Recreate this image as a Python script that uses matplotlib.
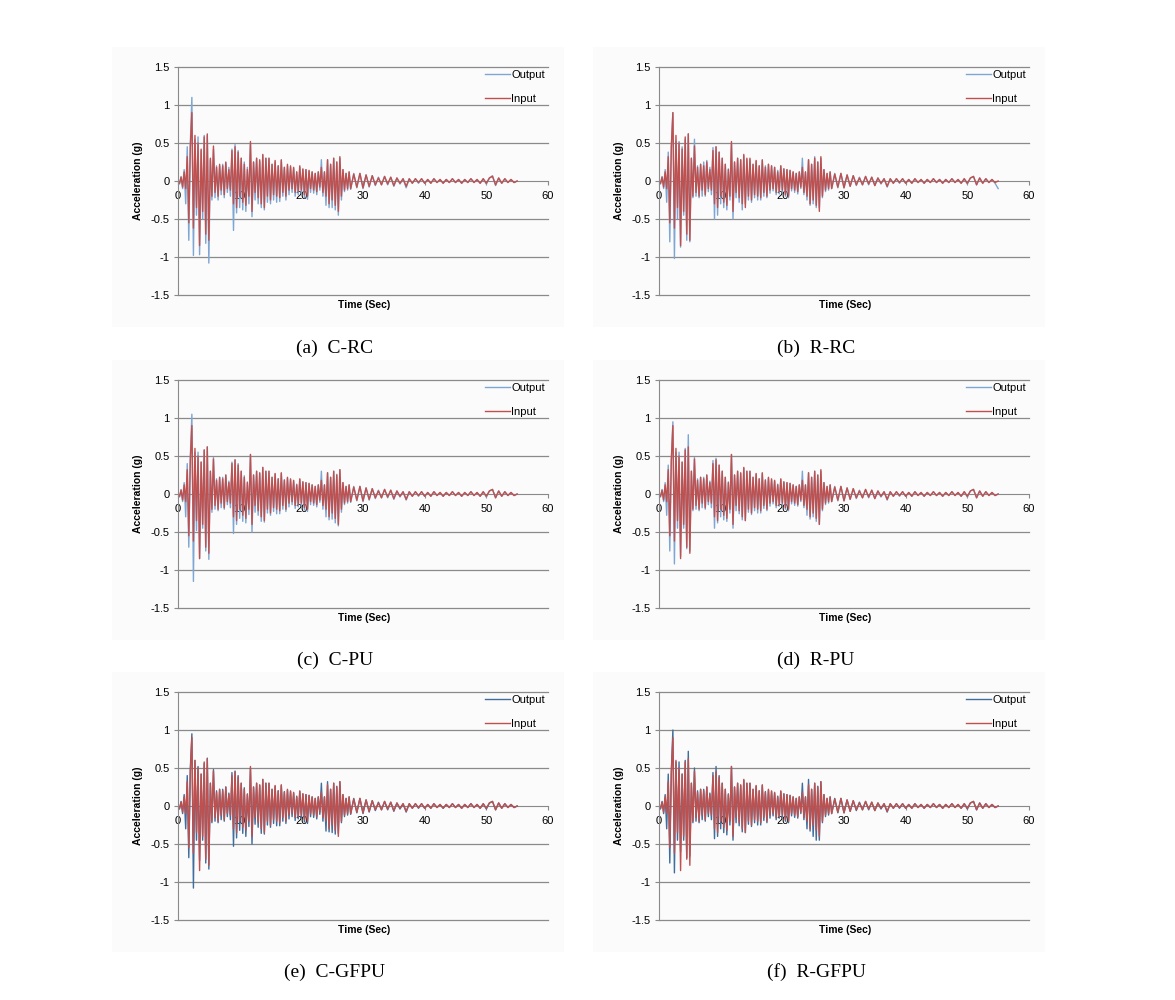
import numpy as np
import matplotlib
matplotlib.use('Agg')
import matplotlib.pyplot as plt
from matplotlib.patches import Rectangle

plt.rcParams['font.family'] = ['Liberation Sans', 'DejaVu Sans']

# time axis: 0.25 s steps during the strong shaking, 0.5 s steps in the coda
time = np.concatenate([np.arange(0, 28, 0.25), np.arange(28, 55.01, 0.5)])

# input (table) acceleration, g
acc_input = [
    0.0, -0.03, 0.05, -0.08, 0.12, -0.1, 0.32, -0.55, 0.45, 0.9, -0.62, 0.6,
    -0.35, 0.5, -0.85, 0.42, -0.4, 0.58, -0.7, 0.62, -0.78, 0.3, -0.2, 0.46,
    -0.15, 0.18, -0.2, 0.22, -0.12, 0.2, -0.18, 0.25, -0.1, 0.15, -0.12, 0.4,
    -0.3, 0.45, -0.35, 0.38, -0.2, 0.3, -0.28, 0.22, -0.32, 0.15, -0.2, 0.52,
    -0.4, 0.25, -0.15, 0.3, -0.22, 0.28, -0.3, 0.35, -0.35, 0.3, -0.2, 0.3,
    -0.25, 0.22, -0.18, 0.27, -0.2, 0.2, -0.22, 0.28, -0.15, 0.18, -0.2, 0.22,
    -0.12, 0.2, -0.1, 0.18, -0.15, 0.12, -0.14, 0.2, -0.12, 0.16, -0.18, 0.15,
    -0.2, 0.14, -0.1, 0.12, -0.12, 0.1, -0.14, 0.12, -0.08, 0.18, -0.15, 0.12,
    -0.2, 0.28, -0.3, 0.22, -0.25, 0.3, -0.32, 0.25, -0.4, 0.32, -0.2, 0.15,
    -0.12, 0.1, -0.1, 0.12,
    -0.1, 0.09, -0.08, 0.1, -0.09, 0.08, -0.07, 0.07, -0.05, 0.04, -0.05, 0.06,
    -0.04, 0.05, -0.06, 0.04, -0.03, 0.03, -0.07, 0.03, -0.03, 0.03, -0.02, 0.03,
    -0.03, 0.02, -0.03, 0.03, -0.02, 0.02, -0.03, 0.02, -0.02, 0.03, -0.02, 0.02,
    -0.03, 0.02, -0.02, 0.03, -0.02, 0.02, -0.03, 0.03, -0.03, 0.04, 0.06, -0.05,
    0.04, -0.03, 0.03, -0.02, 0.02, -0.02, 0.0,
]

# measured output acceleration for each specimen, g
out_c_rc = [
    0.0, -0.04, 0.06, -0.1, 0.15, -0.3, 0.45, -0.78, 0.5, 1.1, -0.98, 0.55,
    -0.45, 0.58, -0.97, 0.4, -0.5, 0.6, -0.82, 0.6, -1.08, 0.28, -0.25, 0.42,
    -0.22, 0.2, -0.25, 0.2, -0.18, 0.22, -0.22, 0.24, -0.15, 0.18, -0.2, 0.42,
    -0.65, 0.48, -0.42, 0.4, -0.35, 0.3, -0.38, 0.25, -0.4, 0.18, -0.3, 0.5,
    -0.47, 0.25, -0.25, 0.3, -0.3, 0.26, -0.35, 0.34, -0.38, 0.3, -0.28, 0.3,
    -0.3, 0.22, -0.25, 0.25, -0.28, 0.2, -0.27, 0.27, -0.2, 0.18, -0.25, 0.2,
    -0.18, 0.18, -0.15, 0.17, -0.2, 0.12, -0.18, 0.18, -0.16, 0.15, -0.22, 0.15,
    -0.24, 0.13, -0.15, 0.12, -0.16, 0.1, -0.18, 0.12, -0.12, 0.28, -0.2, 0.12,
    -0.32, 0.28, -0.35, 0.22, -0.35, 0.3, -0.38, 0.25, -0.45, 0.3, -0.25, 0.15,
    -0.14, 0.1, -0.12, 0.12,
    -0.11, 0.1, -0.09, 0.1, -0.1, 0.08, -0.08, 0.07, -0.06, 0.05, -0.05, 0.06,
    -0.05, 0.05, -0.07, 0.04, -0.04, 0.03, -0.09, 0.03, -0.03, 0.03, -0.03, 0.03,
    -0.03, 0.02, -0.03, 0.03, -0.02, 0.02, -0.03, 0.02, -0.02, 0.03, -0.02, 0.02,
    -0.03, 0.02, -0.02, 0.03, -0.02, 0.02, -0.03, 0.03, -0.04, 0.04, 0.07, -0.06,
    0.04, -0.03, 0.03, -0.02, 0.02, -0.02, 0.0,
]
out_r_rc = [
    0.0, -0.04, 0.06, -0.1, 0.15, -0.28, 0.38, -0.8, 0.45, 0.9, -1.02, 0.52,
    -0.5, 0.52, -0.87, 0.45, -0.45, 0.55, -0.78, 0.62, -0.8, 0.3, -0.22, 0.55,
    -0.2, 0.2, -0.22, 0.22, -0.2, 0.25, -0.2, 0.27, -0.14, 0.18, -0.18, 0.44,
    -0.5, 0.45, -0.45, 0.38, -0.3, 0.3, -0.35, 0.22, -0.38, 0.16, -0.25, 0.5,
    -0.5, 0.25, -0.22, 0.3, -0.28, 0.28, -0.38, 0.33, -0.3, 0.28, -0.25, 0.28,
    -0.28, 0.22, -0.22, 0.26, -0.25, 0.2, -0.25, 0.27, -0.2, 0.2, -0.22, 0.22,
    -0.16, 0.2, -0.13, 0.18, -0.18, 0.14, -0.17, 0.2, -0.15, 0.16, -0.2, 0.15,
    -0.22, 0.14, -0.13, 0.12, -0.15, 0.1, -0.17, 0.12, -0.1, 0.3, -0.18, 0.12,
    -0.25, 0.28, -0.32, 0.22, -0.3, 0.32, -0.35, 0.25, -0.35, 0.3, -0.22, 0.15,
    -0.14, 0.1, -0.12, 0.12,
    -0.1, 0.1, -0.09, 0.1, -0.09, 0.08, -0.07, 0.07, -0.06, 0.05, -0.05, 0.06,
    -0.05, 0.05, -0.06, 0.04, -0.04, 0.03, -0.08, 0.03, -0.03, 0.03, -0.03, 0.03,
    -0.03, 0.02, -0.03, 0.03, -0.02, 0.02, -0.03, 0.02, -0.02, 0.03, -0.02, 0.02,
    -0.03, 0.02, -0.02, 0.03, -0.02, 0.02, -0.03, 0.03, -0.04, 0.04, 0.06, -0.05,
    0.04, -0.03, 0.03, -0.02, 0.02, -0.03, -0.1,
]
out_c_pu = [
    0.0, -0.04, 0.06, -0.1, 0.15, -0.3, 0.4, -0.7, 0.5, 1.05, -1.15, 0.55,
    -0.48, 0.55, -0.85, 0.42, -0.45, 0.58, -0.75, 0.62, -0.86, 0.3, -0.24, 0.48,
    -0.2, 0.2, -0.22, 0.22, -0.18, 0.22, -0.2, 0.25, -0.14, 0.17, -0.18, 0.42,
    -0.52, 0.45, -0.4, 0.4, -0.32, 0.3, -0.36, 0.24, -0.38, 0.16, -0.27, 0.52,
    -0.5, 0.25, -0.24, 0.3, -0.28, 0.27, -0.36, 0.35, -0.37, 0.3, -0.25, 0.3,
    -0.28, 0.22, -0.23, 0.26, -0.26, 0.2, -0.26, 0.27, -0.2, 0.19, -0.23, 0.21,
    -0.17, 0.19, -0.14, 0.17, -0.19, 0.13, -0.17, 0.19, -0.15, 0.16, -0.21, 0.15,
    -0.23, 0.14, -0.14, 0.12, -0.15, 0.1, -0.17, 0.12, -0.11, 0.3, -0.2, 0.12,
    -0.3, 0.28, -0.34, 0.22, -0.33, 0.3, -0.38, 0.26, -0.42, 0.32, -0.24, 0.15,
    -0.14, 0.1, -0.12, 0.12,
    -0.11, 0.1, -0.09, 0.1, -0.1, 0.08, -0.08, 0.07, -0.06, 0.05, -0.05, 0.06,
    -0.05, 0.05, -0.07, 0.04, -0.04, 0.03, -0.08, 0.03, -0.03, 0.03, -0.03, 0.03,
    -0.03, 0.02, -0.03, 0.03, -0.02, 0.02, -0.03, 0.02, -0.02, 0.03, -0.02, 0.02,
    -0.03, 0.02, -0.02, 0.03, -0.02, 0.02, -0.03, 0.03, -0.04, 0.04, 0.06, -0.05,
    0.04, -0.03, 0.03, -0.02, 0.02, -0.02, 0.0,
]
out_r_pu = [
    0.0, -0.04, 0.06, -0.1, 0.15, -0.28, 0.38, -0.75, 0.45, 0.95, -0.92, 0.55,
    -0.45, 0.55, -0.82, 0.42, -0.45, 0.6, -0.72, 0.78, -0.75, 0.3, -0.22, 0.48,
    -0.2, 0.2, -0.22, 0.22, -0.18, 0.22, -0.2, 0.25, -0.14, 0.17, -0.18, 0.44,
    -0.45, 0.47, -0.38, 0.38, -0.3, 0.3, -0.34, 0.22, -0.36, 0.16, -0.25, 0.52,
    -0.45, 0.25, -0.22, 0.3, -0.26, 0.27, -0.34, 0.34, -0.35, 0.3, -0.24, 0.3,
    -0.27, 0.22, -0.22, 0.26, -0.25, 0.2, -0.25, 0.27, -0.19, 0.19, -0.22, 0.21,
    -0.16, 0.19, -0.13, 0.17, -0.18, 0.13, -0.16, 0.19, -0.14, 0.16, -0.2, 0.15,
    -0.22, 0.14, -0.13, 0.12, -0.15, 0.1, -0.16, 0.12, -0.1, 0.3, -0.18, 0.12,
    -0.28, 0.28, -0.33, 0.22, -0.3, 0.3, -0.36, 0.25, -0.4, 0.3, -0.22, 0.15,
    -0.14, 0.1, -0.12, 0.12,
    -0.1, 0.1, -0.09, 0.1, -0.09, 0.08, -0.07, 0.07, -0.06, 0.05, -0.05, 0.06,
    -0.05, 0.05, -0.06, 0.04, -0.04, 0.03, -0.08, 0.03, -0.03, 0.03, -0.03, 0.03,
    -0.03, 0.02, -0.03, 0.03, -0.02, 0.02, -0.03, 0.02, -0.02, 0.03, -0.02, 0.02,
    -0.03, 0.02, -0.02, 0.03, -0.02, 0.02, -0.03, 0.03, -0.04, 0.04, 0.06, -0.05,
    0.04, -0.03, 0.03, -0.02, 0.02, -0.02, 0.0,
]
out_c_gfpu = [
    0.0, -0.04, 0.06, -0.1, 0.15, -0.3, 0.4, -0.68, 0.5, 0.95, -1.08, 0.6,
    -0.45, 0.52, -0.72, 0.42, -0.45, 0.56, -0.75, 0.63, -0.83, 0.3, -0.22, 0.48,
    -0.2, 0.2, -0.22, 0.22, -0.18, 0.22, -0.2, 0.25, -0.14, 0.17, -0.18, 0.44,
    -0.53, 0.46, -0.42, 0.4, -0.32, 0.3, -0.36, 0.24, -0.4, 0.16, -0.27, 0.5,
    -0.5, 0.25, -0.24, 0.3, -0.28, 0.27, -0.36, 0.35, -0.37, 0.3, -0.25, 0.3,
    -0.28, 0.22, -0.23, 0.26, -0.26, 0.2, -0.26, 0.27, -0.2, 0.19, -0.23, 0.21,
    -0.17, 0.19, -0.14, 0.17, -0.19, 0.13, -0.17, 0.19, -0.15, 0.16, -0.21, 0.15,
    -0.23, 0.14, -0.14, 0.12, -0.15, 0.1, -0.17, 0.12, -0.11, 0.3, -0.2, 0.12,
    -0.33, 0.32, -0.34, 0.22, -0.35, 0.3, -0.37, 0.26, -0.36, 0.32, -0.22, 0.15,
    -0.14, 0.1, -0.12, 0.12,
    -0.11, 0.1, -0.09, 0.1, -0.1, 0.08, -0.08, 0.07, -0.06, 0.05, -0.05, 0.06,
    -0.05, 0.05, -0.07, 0.04, -0.04, 0.03, -0.08, 0.03, -0.03, 0.03, -0.03, 0.03,
    -0.03, 0.02, -0.03, 0.03, -0.02, 0.02, -0.03, 0.02, -0.02, 0.03, -0.02, 0.02,
    -0.03, 0.02, -0.02, 0.03, -0.02, 0.02, -0.03, 0.03, -0.04, 0.04, 0.06, -0.05,
    0.04, -0.03, 0.03, -0.02, 0.02, -0.02, 0.0,
]
out_r_gfpu = [
    0.0, -0.04, 0.06, -0.1, 0.15, -0.3, 0.42, -0.75, 0.45, 1.0, -0.88, 0.58,
    -0.45, 0.58, -0.6, 0.42, -0.45, 0.6, -0.68, 0.72, -0.66, 0.3, -0.22, 0.5,
    -0.2, 0.2, -0.22, 0.22, -0.18, 0.22, -0.2, 0.25, -0.14, 0.17, -0.18, 0.44,
    -0.43, 0.52, -0.4, 0.4, -0.3, 0.3, -0.35, 0.22, -0.38, 0.16, -0.25, 0.52,
    -0.45, 0.25, -0.22, 0.3, -0.26, 0.27, -0.34, 0.34, -0.35, 0.3, -0.24, 0.3,
    -0.27, 0.22, -0.22, 0.26, -0.25, 0.2, -0.25, 0.27, -0.19, 0.19, -0.22, 0.21,
    -0.16, 0.19, -0.13, 0.17, -0.18, 0.13, -0.16, 0.19, -0.14, 0.16, -0.2, 0.15,
    -0.22, 0.14, -0.13, 0.12, -0.15, 0.1, -0.16, 0.12, -0.1, 0.3, -0.18, 0.12,
    -0.3, 0.35, -0.33, 0.22, -0.4, 0.3, -0.45, 0.26, -0.45, 0.32, -0.22, 0.15,
    -0.14, 0.1, -0.12, 0.12,
    -0.1, 0.1, -0.09, 0.1, -0.09, 0.08, -0.07, 0.07, -0.06, 0.05, -0.05, 0.06,
    -0.05, 0.05, -0.06, 0.04, -0.04, 0.03, -0.08, 0.03, -0.03, 0.03, -0.03, 0.03,
    -0.03, 0.02, -0.03, 0.03, -0.02, 0.02, -0.03, 0.02, -0.02, 0.03, -0.02, 0.02,
    -0.03, 0.02, -0.02, 0.03, -0.02, 0.02, -0.03, 0.03, -0.04, 0.04, 0.06, -0.05,
    0.04, -0.03, 0.03, -0.02, 0.02, -0.02, 0.0,
]

captions = ['(a)  C-RC', '(b)  R-RC', '(c)  C-PU', '(d)  R-PU', '(e)  C-GFPU', '(f)  R-GFPU']
outputs = [out_c_rc, out_r_rc, out_c_pu, out_r_pu, out_c_gfpu, out_r_gfpu]
out_colors = ['#7EA6D3', '#7EA6D3', '#7EA6D3', '#7EA6D3', '#3F6E9E', '#3F6E9E']
in_color = '#C0504D'
grid_color = '#8A8A8A'

W, H = 1175, 1000
fig = plt.figure(figsize=(W / 100, H / 100), dpi=100)

col_x = [178, 659]          # left edge of plot area, px
row_top = [67, 380, 692]    # top of plot area, px
pw, ph = 370, 228
caption_y = [348, 660, 972]

for k in range(6):
    r, c = divmod(k, 2)
    x0, y0 = col_x[c], row_top[r]

    # faint chart background
    fig.patches.append(Rectangle(((x0 - 66) / W, 1 - (y0 + 260) / H), 452 / W, 280 / H,
                                 transform=fig.transFigure, facecolor='#FBFBFB',
                                 edgecolor='none', zorder=-10))

    ax = fig.add_axes([x0 / W, 1 - (y0 + ph) / H, pw / W, ph / H])
    ax.set_zorder(1)
    ax.set_facecolor('none')
    ax.plot(time, outputs[k], color=out_colors[k], lw=1.0, label='Output')
    ax.plot(time, acc_input, color=in_color, lw=1.0, label='Input')

    ax.set_xlim(0, 60)
    ax.set_ylim(-1.5, 1.5)
    ax.set_yticks([-1.5, -1, -0.5, 0, 0.5, 1, 1.5])
    ax.set_yticklabels(['-1.5', '-1', '-0.5', '0', '0.5', '1', '1.5'])
    ax.set_xticks([0, 10, 20, 30, 40, 50, 60])
    for gy in [-1.5, -1, -0.5, 0.5, 1, 1.5]:
        ax.axhline(gy, color=grid_color, lw=0.9, zorder=0, clip_on=False)

    for s in ['top', 'right']:
        ax.spines[s].set_visible(False)
    ax.spines['left'].set_color(grid_color)
    ax.spines['bottom'].set_position(('data', 0))
    ax.spines['bottom'].set_color(grid_color)
    ax.spines['bottom'].set_zorder(0.5)
    ax.tick_params(axis='y', length=3, color=grid_color, labelsize=8, pad=3)
    ax.tick_params(axis='x', length=3, color=grid_color, labelsize=8, pad=4)

    ax.text(-0.108, 0.5, 'Acceleration (g)', transform=ax.transAxes, rotation=90,
            ha='center', va='center', fontsize=7.5, fontweight='bold')
    ax.text(0.503, -0.044, 'Time (Sec)', transform=ax.transAxes,
            ha='center', va='center', fontsize=7.5, fontweight='bold')

    ax.legend(loc='upper right', bbox_to_anchor=(1.01, 1.015), frameon=False,
              fontsize=8, handlelength=2.3, handletextpad=0.1, labelspacing=1.2,
              borderaxespad=0.2)

    fig.text((x0 + 157) / W, 1 - caption_y[r] / H, captions[k], ha='center', va='center',
             fontsize=14, family='Liberation Serif')

fig.savefig('out.png', dpi=100)
